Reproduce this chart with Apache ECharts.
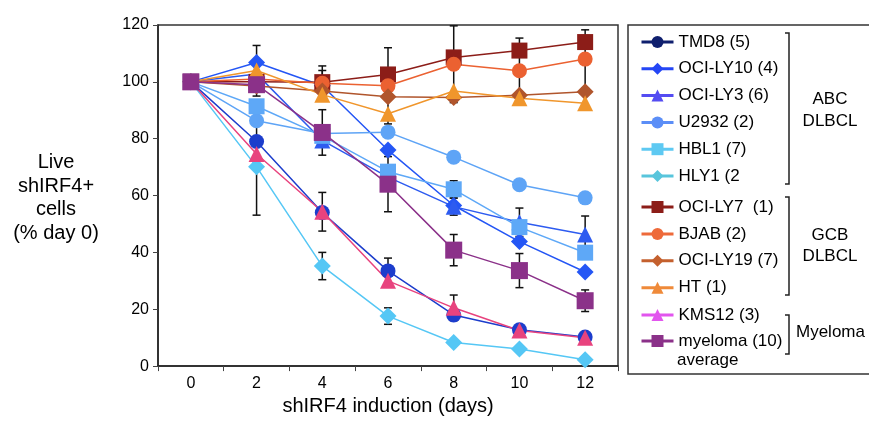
<!DOCTYPE html>
<html>
<head>
<meta charset="utf-8">
<script src="https://cdn.jsdelivr.net/npm/echarts@6/dist/echarts.min.js"></script>
<style>
  html, body { margin: 0; padding: 0; background: #fff; }
  #myChart { width: 869px; height: 421px; }
</style>
</head>
<body>
<div id="myChart"></div>
<script>
// 数据
var days = ['0', '2', '4', '6', '8', '10', '12']

var tmd8 = [100, 79, 54, 33.5, 18, 12.8, 10.2]
var ociLy10 = [100, 106.8, 98.6, 76, 56.5, 43.8, 33.1]
var ociLy3 = [100, 102.8, 79.4, 66.5, 56.1, 50.6, 46.3]
var u2932 = [100, 86.3, 81.8, 82.3, 73.5, 63.8, 59.2]
var hbl1 = [100, 91.4, 81, 68.4, 62.2, 48.9, 39.9]
var hly1 = [100, 70.1, 35.2, 17.6, 8.3, 6, 2.2]
var ociLy7 = [100, 100, 99.9, 102.6, 108.6, 111, 114]
var bjab = [100, 101, 99.5, 98.6, 106.2, 103.9, 108]
var ociLy19 = [100, 98.5, 96.8, 94.8, 94.5, 95.3, 96.5]
var ht = [100, 104, 95.5, 88.8, 96.8, 94.2, 92.5]
var kms12 = [100, 74.6, 54.3, 30, 20.5, 12.5, 10]
var myeloma = [100, 99, 82.2, 64, 40.8, 33.6, 23]

// 误差 (±)
var tmd8Err = [0, 0, 0, 4.5, 0, 0, 0]
var ociLy10Err = [0, 6, 0, 0, 0, 0, 0]
var ociLy3Err = [0, 0, 0, 0, 3, 5, 6.5]
var hbl1Err = [0, 0, 0, 0, 3, 0, 0]
var hly1Err = [0, 17, 4.8, 2.9, 0, 0, 0]
var ociLy7Err = [0, 0, 5.7, 0, 0, 0, 0]
var bjabErr = [0, 0, 4.5, 13.4, 13.5, 11.5, 10.3]
var kms12Err = [0, 0, 6.8, 0, 4.5, 0, 0]
var myelomaErr = [0, 4, 8, 9.7, 5.5, 6, 3.8]

var FONT = '"Liberation Sans", Arial, Helvetica, sans-serif'

var lines = [
  { name: 'TMD8 (5)', data: tmd8, err: tmd8Err, symbol: 'circle', size: 15, color: '#1c3dcc', legendColor: '#0f1f6e' },
  { name: 'OCI-LY10 (4)', data: ociLy10, err: ociLy10Err, symbol: 'diamond', size: 17, color: '#2456f5', legendColor: '#2446f5' },
  { name: 'OCI-LY3 (6)', data: ociLy3, err: ociLy3Err, symbol: 'triangle', size: 16, color: '#2d5bf0', legendColor: '#544cf2' },
  { name: 'U2932 (2)', data: u2932, err: null, symbol: 'circle', size: 15, color: '#5ea4f6', legendColor: '#5b8ef7' },
  { name: 'HBL1 (7)', data: hbl1, err: hbl1Err, symbol: 'rect', size: 16, color: '#5ea8f7', legendColor: '#5ec9f2' },
  { name: 'HLY1 (2', data: hly1, err: hly1Err, symbol: 'diamond', size: 17, color: '#55c7f5', legendColor: '#58c5dc' },
  { name: 'OCI-LY7  (1)', data: ociLy7, err: ociLy7Err, symbol: 'rect', size: 16, color: '#8c1d18', legendColor: '#8c1d18' },
  { name: 'BJAB (2)', data: bjab, err: bjabErr, symbol: 'circle', size: 15, color: '#eb6131', legendColor: '#ee6a3a' },
  { name: 'OCI-LY19 (7)', data: ociLy19, err: null, symbol: 'diamond', size: 17, color: '#b0552c', legendColor: '#c4602e' },
  { name: 'HT (1)', data: ht, err: null, symbol: 'triangle', size: 16, color: '#f0962c', legendColor: '#ef8a3a' },
  { name: 'KMS12 (3)', data: kms12, err: kms12Err, symbol: 'triangle', size: 16, color: '#e8437e', legendColor: '#e255ee' },
  { name: 'myeloma (10)', data: myeloma, err: myelomaErr, symbol: 'rect', size: 17, color: '#8b3189', legendColor: '#8b3189' }
]

function errRender (params, api) {
  var lo = api.coord([api.value(0), api.value(1)])
  var hi = api.coord([api.value(0), api.value(2)])
  var x = lo[0]
  var w = 4
  var st = { stroke: '#111', lineWidth: 1.5 }
  return {
    type: 'group',
    children: [
      { type: 'line', shape: { x1: x, y1: lo[1], x2: x, y2: hi[1] }, style: st },
      { type: 'line', shape: { x1: x - w, y1: lo[1], x2: x + w, y2: lo[1] }, style: st },
      { type: 'line', shape: { x1: x - w, y1: hi[1], x2: x + w, y2: hi[1] }, style: st }
    ]
  }
}

var series = []
lines.forEach(function (s) {
  if (s.err) {
    var eb = []
    s.data.forEach(function (v, i) {
      if (s.err[i]) eb.push([i, v - s.err[i], v + s.err[i]])
    })
    series.push({
      type: 'custom',
      name: s.name + ' err',
      renderItem: errRender,
      data: eb,
      encode: { x: 0, y: [1, 2] },
      z: 1,
      silent: true
    })
  }
})
lines.forEach(function (s) {
  series.push({
    name: s.name,
    type: 'line',
    data: s.data,
    symbol: s.symbol,
    symbolSize: s.size,
    color: s.color,
    lineStyle: { width: 1.5, color: s.color },
    itemStyle: { color: s.color, opacity: 1 },
    z: 2
  })
})

function legendData (from, to) {
  return lines.slice(from, to).map(function (s) {
    return {
      name: s.name,
      itemStyle: { color: s.legendColor },
      lineStyle: { color: s.legendColor, width: 3 }
    }
  })
}

function legendBox (top, gap, data) {
  return {
    orient: 'vertical',
    left: 640,
    top: top,
    padding: 0,
    itemGap: gap,
    itemWidth: 32,
    itemHeight: 15,
    textStyle: { fontSize: 17, lineHeight: 20, color: '#000', fontFamily: FONT },
    data: data,
    selectedMode: false
  }
}

var myChart = echarts.init(document.getElementById('myChart'), null, { renderer: 'canvas' })

myChart.setOption({
  backgroundColor: '#fff',
  animation: false,
  grid: {
    left: 158,
    right: 251,
    top: 25,
    bottom: 47,
    show: true,
    borderColor: '#333',
    borderWidth: 1.5
  },
  legend: [
    legendBox(32, 6.8, legendData(0, 6)),
    legendBox(197, 6.9, legendData(6, 10)),
    legendBox(305, 6, legendData(10, 12))
  ],
  xAxis: {
    type: 'category',
    data: days,
    boundaryGap: true,
    name: 'shIRF4 induction (days)',
    nameLocation: 'middle',
    nameGap: 26,
    nameTextStyle: { fontSize: 20, color: '#000', fontFamily: FONT },
    axisLine: { lineStyle: { color: '#222', width: 1.5 } },
    axisTick: { show: true, length: 5, lineStyle: { color: '#444' } },
    axisLabel: { fontSize: 16, color: '#000', margin: 9, fontFamily: FONT },
    splitLine: { show: false }
  },
  yAxis: {
    type: 'value',
    min: 0,
    max: 120,
    interval: 20,
    axisLine: { show: true, lineStyle: { color: '#222', width: 1.5 } },
    axisTick: { show: true, length: 5, lineStyle: { color: '#444' } },
    axisLabel: { fontSize: 16, color: '#000', margin: 9, fontFamily: FONT },
    splitLine: { show: false }
  },
  graphic: [
    {
      type: 'text',
      x: 56,
      y: 151,
      style: {
        text: 'Live\nshIRF4+\ncells\n(% day 0)',
        fontSize: 20,
        lineHeight: 23.5,
        fill: '#000',
        align: 'center',
        fontFamily: FONT
      }
    },
    // 图例外框
    { type: 'rect', shape: { x: 628, y: 25, width: 260, height: 349 }, style: { fill: 'none', stroke: '#333', lineWidth: 1.5 } },
    // 括号
    { type: 'polyline', shape: { points: [[785, 33], [789, 33], [789, 184], [785, 184]] }, style: { fill: 'none', stroke: '#222', lineWidth: 1.5 } },
    { type: 'polyline', shape: { points: [[785, 197], [789, 197], [789, 295], [785, 295]] }, style: { fill: 'none', stroke: '#222', lineWidth: 1.5 } },
    { type: 'polyline', shape: { points: [[785, 315], [789, 315], [789, 354], [785, 354]] }, style: { fill: 'none', stroke: '#222', lineWidth: 1.5 } },
    { type: 'text', x: 830, y: 88, style: { text: 'ABC\nDLBCL', fontSize: 17, lineHeight: 22, fill: '#000', align: 'center', fontFamily: FONT } },
    { type: 'text', x: 830, y: 225, style: { text: 'GCB\nDLBCL', fontSize: 17, lineHeight: 21, fill: '#000', align: 'center', fontFamily: FONT } },
    { type: 'text', x: 796, y: 324, style: { text: 'Myeloma', fontSize: 17, fill: '#000', fontFamily: FONT } },
    { type: 'text', x: 677, y: 352, style: { text: 'average', fontSize: 17, fill: '#000', fontFamily: FONT } }
  ],
  series: series
})
</script>
</body>
</html>
